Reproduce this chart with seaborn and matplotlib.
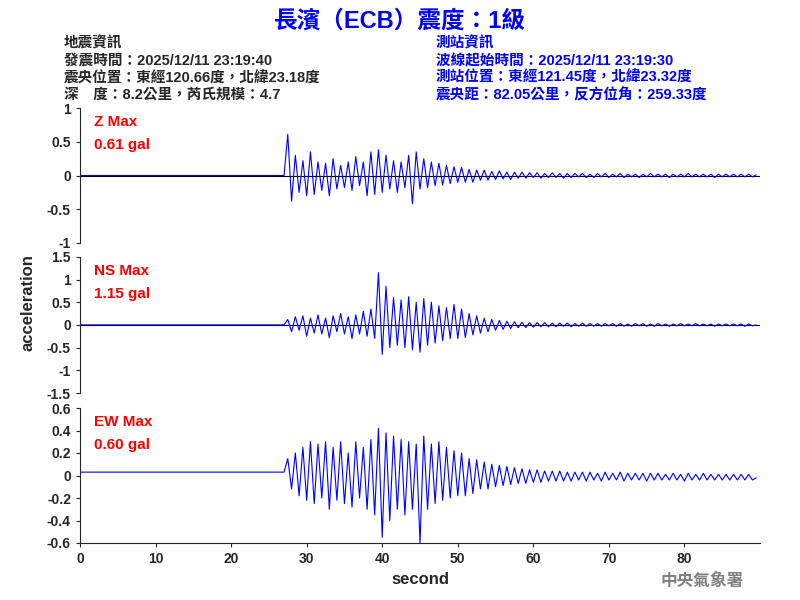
import numpy as np
import pandas as pd
import seaborn as sns
import matplotlib.pyplot as plt

sns.set_style("ticks")
plt.rcParams['font.family'] = ['Liberation Sans', 'Noto Sans CJK TC', 'DejaVu Sans']

# sample interval of the hand-read traces (s), traces start at 27 s
dt = 0.5
t_start = 27.0

z_vals = [0.0, 0.61, -0.38, 0.3, -0.25, 0.22, -0.3, 0.35, -0.28, 0.2, -0.22, 0.18, -0.3, 0.25, -0.2, 0.15,
          -0.18, 0.2, -0.22, 0.28, -0.15, 0.2, -0.3, 0.35, -0.28, 0.38, -0.25, 0.3, -0.2, 0.22, -0.25, 0.2,
          -0.18, 0.3, -0.42, 0.35, -0.2, 0.25, -0.18, 0.2, -0.15, 0.18, -0.14, 0.15, -0.12, 0.13, -0.1, 0.12,
          -0.1, 0.09, -0.1, 0.08, -0.07, 0.08, -0.07, 0.06, -0.06, 0.07, -0.05, 0.05, -0.06, 0.05, -0.04, 0.05,
          -0.04, 0.04, -0.03, 0.04, -0.04, 0.03, -0.03, 0.04, -0.03, 0.03, -0.04, 0.03, -0.03, 0.03, -0.02, 0.03,
          -0.03, 0.02, -0.03, 0.03, -0.02, 0.03, -0.03, 0.02, -0.02, 0.03, -0.03, 0.02, -0.02, 0.02, -0.03, 0.02,
          -0.02, 0.03, -0.02, 0.02, -0.02, 0.02, -0.03, 0.02, -0.02, 0.02, -0.02, 0.03, -0.02, 0.02, -0.02, 0.02,
          -0.02, 0.02, -0.03, 0.02, -0.02, 0.02, -0.02, 0.02, -0.02, 0.02, -0.02, 0.02, -0.02, 0.01]

ns_vals = [0.0, 0.12, -0.15, 0.18, -0.12, 0.2, -0.25, 0.15, -0.18, 0.22, -0.2, 0.15, -0.28, 0.2, -0.15, 0.25,
           -0.2, 0.18, -0.3, 0.22, -0.2, 0.3, -0.25, 0.35, -0.3, 1.15, -0.65, 0.85, -0.5, 0.6, -0.45, 0.55,
           -0.5, 0.62, -0.55, 0.5, -0.6, 0.58, -0.45, 0.5, -0.4, 0.42, -0.35, 0.38, -0.3, 0.45, -0.3, 0.35,
           -0.28, 0.25, -0.22, 0.2, -0.18, 0.15, -0.15, 0.12, -0.12, 0.1, -0.1, 0.08, -0.08, 0.07, -0.06, 0.06,
           -0.06, 0.05, -0.05, 0.05, -0.04, 0.05, -0.04, 0.04, -0.04, 0.04, -0.03, 0.04, -0.04, 0.03, -0.03, 0.04,
           -0.03, 0.03, -0.03, 0.03, -0.03, 0.03, -0.02, 0.03, -0.03, 0.03, -0.03, 0.02, -0.03, 0.03, -0.02, 0.03,
           -0.03, 0.02, -0.03, 0.03, -0.02, 0.02, -0.03, 0.02, -0.02, 0.03, -0.02, 0.02, -0.02, 0.03, -0.02, 0.02,
           -0.02, 0.02, -0.03, 0.02, -0.02, 0.02, -0.02, 0.02, -0.02, 0.02, -0.03, 0.02, -0.02, 0.0]

ew_pre = 0.03
ew_vals = [0.03, 0.15, -0.12, 0.2, -0.18, 0.25, -0.22, 0.3, -0.25, 0.28, -0.2, 0.3, -0.3, 0.25, -0.22, 0.3,
           -0.25, 0.2, -0.28, 0.3, -0.2, 0.25, -0.3, 0.32, -0.35, 0.42, -0.55, 0.38, -0.4, 0.35, -0.3, 0.32,
           -0.35, 0.3, -0.3, 0.28, -0.6, 0.35, -0.3, 0.28, -0.25, 0.3, -0.22, 0.25, -0.2, 0.22, -0.18, 0.2,
           -0.18, 0.15, -0.16, 0.14, -0.12, 0.12, -0.12, 0.1, -0.1, 0.09, -0.09, 0.08, -0.08, 0.07, -0.07, 0.06,
           -0.07, 0.05, -0.06, 0.05, -0.06, 0.04, -0.05, 0.04, -0.05, 0.04, -0.05, 0.03, -0.05, 0.03, -0.04, 0.03,
           -0.05, 0.03, -0.04, 0.02, -0.05, 0.03, -0.04, 0.02, -0.04, 0.03, -0.05, 0.02, -0.04, 0.02, -0.04, 0.02,
           -0.05, 0.02, -0.04, 0.02, -0.04, 0.01, -0.04, 0.02, -0.04, 0.01, -0.05, 0.02, -0.04, 0.01, -0.04, 0.02,
           -0.04, 0.01, -0.04, 0.01, -0.04, 0.01, -0.04, 0.01, -0.04, 0.01, -0.04, 0.01, -0.04, -0.02]

channels = ['Z', 'NS', 'EW']
max_labels = ['0.61 gal', '1.15 gal', '0.60 gal']
y_lims = [(-1, 1), (-1.5, 1.5), (-0.6, 0.6)]
y_ticks = [[-1, -0.5, 0, 0.5, 1], [-1.5, -1, -0.5, 0, 0.5, 1, 1.5], [-0.6, -0.4, -0.2, 0, 0.2, 0.4, 0.6]]
y_ticklabels = [['-1', '-0.5', '0', '0.5', '1'], ['-1.5', '-1', '-0.5', '0', '0.5', '1', '1.5'],
                ['-0.6', '-0.4', '-0.2', '0', '0.2', '0.4', '0.6']]
pre_levels = [0.0, 0.0, ew_pre]


def trace_df(vals, pre):
    t = t_start + dt * np.arange(len(vals))
    return pd.DataFrame({'time': np.r_[0.0, t], 'acc': np.r_[pre, vals]})


fig = plt.figure(figsize=(8, 6), dpi=100)
boxes = [[0.1, 0.595, 0.85, 0.225], [0.1, 0.345, 0.85, 0.227], [0.1, 0.095, 0.85, 0.225]]
for i, vals in enumerate([z_vals, ns_vals, ew_vals]):
    ax = fig.add_axes(boxes[i])
    if i < 2:
        ax.axhline(0, color='black', lw=0.8)
    sns.lineplot(data=trace_df(vals, pre_levels[i]), x='time', y='acc', color='blue', lw=0.8, ax=ax)
    ax.set_xlim(0, 90)
    ax.set_ylim(*y_lims[i])
    ax.set_yticks(y_ticks[i])
    ax.set_yticklabels(y_ticklabels[i], fontweight='bold', fontsize=10)
    ax.set_ylabel('')
    ax.set_xlabel('')
    sns.despine(ax=ax, top=True, right=True, bottom=(i < 2))
    ax.tick_params(length=3)
    if i < 2:
        ax.set_xticks([])
    else:
        ax.set_xticks(range(0, 90, 10))
        ax.set_xticklabels([str(v) for v in range(0, 90, 10)], fontweight='bold', fontsize=10)
        ax.set_xlabel('second', fontweight='bold', fontsize=12)
    ax.text(0.02, 0.95, channels[i] + ' Max', transform=ax.transAxes, color='red',
            fontweight='bold', fontsize=11, va='top')
    ax.text(0.02, 0.78, max_labels[i], transform=ax.transAxes, color='red',
            fontweight='bold', fontsize=11, va='top')

fig.text(0.035, 0.495, 'acceleration', rotation=90, ha='center', va='center', fontweight='bold', fontsize=12)

fig.text(0.5, 0.965, '長濱（ECB）震度：1級', ha='center', va='center', color='blue',
         fontweight='bold', fontsize=17)
left_info = ['地震資訊', '發震時間：2025/12/11 23:19:40', '震央位置：東經120.66度，北緯23.18度',
             '深　度：8.2公里，芮氏規模：4.7']
right_info = ['測站資訊', '波線起始時間：2025/12/11 23:19:30', '測站位置：東經121.45度，北緯23.32度',
              '震央距：82.05公里，反方位角：259.33度']
for k in range(4):
    fig.text(0.08, 0.927 - k * 0.0285, left_info[k], fontsize=10.5, fontweight='bold', va='center')
    fig.text(0.545, 0.927 - k * 0.0285, right_info[k], fontsize=10.5, fontweight='bold', va='center',
             color='blue')
fig.text(0.93, 0.032, '中央氣象署', ha='right', va='center', color='gray', fontsize=12, fontweight='bold',
         family=['Noto Sans CJK TC'])

fig.savefig('out.png', dpi=100)
